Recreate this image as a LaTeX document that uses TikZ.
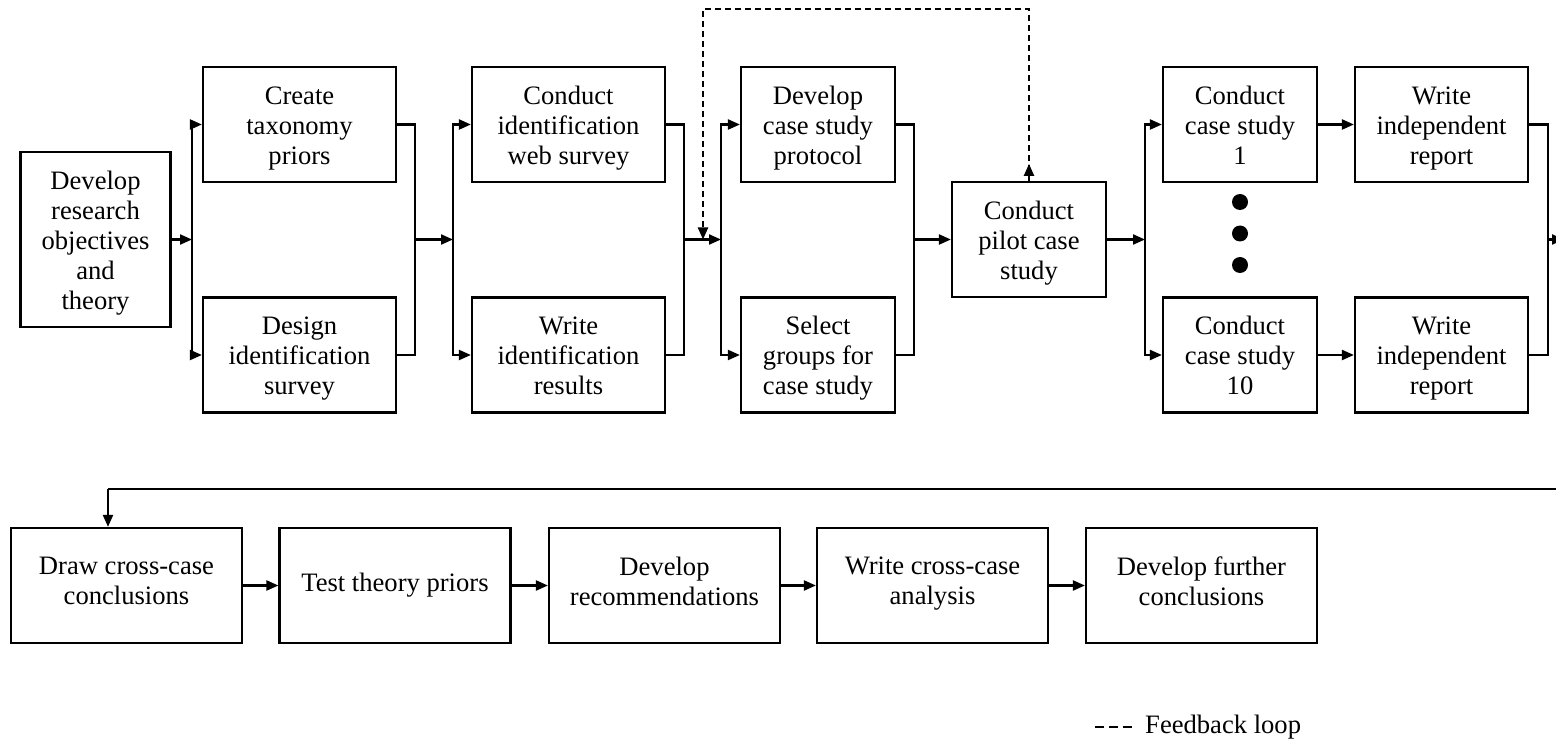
\documentclass[tikz,border=0pt]{standalone}
\usepackage{fontspec}
\setmainfont{Liberation Serif}
\usetikzlibrary{arrows.meta}
\begin{document}
\begin{tikzpicture}[x=1pt,y=-1pt,
  box/.style={draw,line width=2.2pt,align=center,inner sep=0pt,font=\fontsize{26.6}{30}\selectfont,
    execute at begin node=\strut, execute at end node=\strut},
  up/.style={box,execute at end node={\strut\rule{0pt}{#1}}},
  up/.default=89pt,
  tall/.style={up,minimum width=154pt,minimum height=115pt},
  wide/.style={up,minimum width=193pt,minimum height=115pt},
  rep/.style={up,minimum width=173pt,minimum height=115pt},
  low/.style={box,minimum width=231pt,minimum height=115pt},
  tip/.style={-{Triangle[length=12pt,width=10pt]}},
  arr/.style={line width=2.2pt,tip},
  ln/.style={line width=2.2pt},
  fb/.style={line width=2.2pt,dash pattern=on 6pt off 4pt},
  dotn/.style={circle,fill,inner sep=0pt,minimum size=16pt}]
\useasboundingbox (0,0) rectangle (1556,743);
\clip (0,0) rectangle (1556,743);

% row 1
\node[up=149pt,minimum width=150pt,minimum height=175pt] (A) at (95.5,239.5) {Develop\\research\\objectives\\and\\theory};
\node[wide] (B1) at (299.5,124.5) {Create\\taxonomy\\priors};
\node[wide] (B2) at (299.5,355) {Design\\identification\\survey};
\node[wide] (C1) at (568.5,124.5) {Conduct\\identification\\web survey};
\node[wide] (C2) at (568.5,355) {Write\\identification\\results};
\node[tall] (D1) at (818,124.5) {Develop\\case study\\protocol};
\node[tall] (D2) at (818,355) {Select\\groups for\\case study};
\node[tall] (P) at (1029,239.5) {Conduct\\pilot case\\study};
\node[tall] (E1) at (1240,124.5) {Conduct\\case study\\1};
\node[tall] (E2) at (1240,355) {Conduct\\case study\\10};
\node[rep] (F1) at (1441.5,124.5) {Write\\independent\\report};
\node[rep] (F2) at (1441.5,355) {Write\\independent\\report};
\node[dotn] (d1) at (1240,202) {};
\node[dotn] (d2) at (1240,233.5) {};
\node[dotn] (d3) at (1240,265) {};

% row 2
\node[low] (G1) at (126.5,585.5) {Draw cross-case\\conclusions};
\node[low] (G2) at (395,585.5) {Test theory priors};
\node[low] (G3) at (664.5,585.5) {Develop\\recommendations};
\node[low] (G4) at (932.5,585.5) {Write cross-case\\analysis};
\node[low] (G5) at (1201.5,585.5) {Develop further\\conclusions};

% junction coordinates
\coordinate (s1) at (192,239.5);
\coordinate (m1) at (415,239.5);
\coordinate (s2) at (453,239.5);
\coordinate (m2) at (684,239.5);
\coordinate (s3) at (721,239.5);
\coordinate (m3) at (914,239.5);
\coordinate (s4) at (1145,239.5);
\coordinate (m4) at (1548,239.5);
\coordinate (out) at (1564,239.5);
\coordinate (fbend) at (703,239.5);
\coordinate (fbtop) at (1029,9);
\coordinate (retR) at (1566,489);
\coordinate (ret) at (108,489);

% connectors row 1
\draw[arr] (A.east) -- (s1);
\draw[arr] (s1) |- (B1.west);
\draw[arr] (s1) |- (B2.west);
\draw[ln] (B1.east) -| (m1) |- (B2.east);
\draw[arr] (m1) -- (s2);
\draw[arr] (s2) |- (C1.west);
\draw[arr] (s2) |- (C2.west);
\draw[ln] (C1.east) -| (m2) |- (C2.east);
\draw[arr] (m2) -- (s3);
\draw[arr] (s3) |- (D1.west);
\draw[arr] (s3) |- (D2.west);
\draw[ln] (D1.east) -| (m3) |- (D2.east);
\draw[arr] (m3) -- (P.west);
\draw[arr] (P.east) -- (s4);
\draw[arr] (s4) |- (E1.west);
\draw[arr] (s4) |- (E2.west);
\draw[arr] (E1) -- (F1);
\draw[arr] (E2) -- (F2);
\draw[ln] (F1.east) -| (m4) |- (F2.east);
\draw[arr] (m4) -- (out);

% feedback loop
\draw[fb,tip] (P.north) -- (fbtop) -| (fbend);
\draw[arr] (P.north) -- ++(0,-17);

% row 2 connectors
\draw[ln] (retR) -- (ret);
\draw[arr] (ret) -- (ret |- G1.north);
\draw[arr] (G1) -- (G2);
\draw[arr] (G2) -- (G3);
\draw[arr] (G3) -- (G4);
\draw[arr] (G4) -- (G5);

% legend
\coordinate (legL) at (1095,727);
\coordinate (legR) at (1132,727);
\draw[line width=1.6pt,dash pattern=on 9pt off 5pt] (legL) -- (legR);
\node[anchor=base west,inner sep=0pt,font=\fontsize{26.6}{30}\selectfont] (leg) at (1145,733) {Feedback loop};
\end{tikzpicture}
\end{document}
